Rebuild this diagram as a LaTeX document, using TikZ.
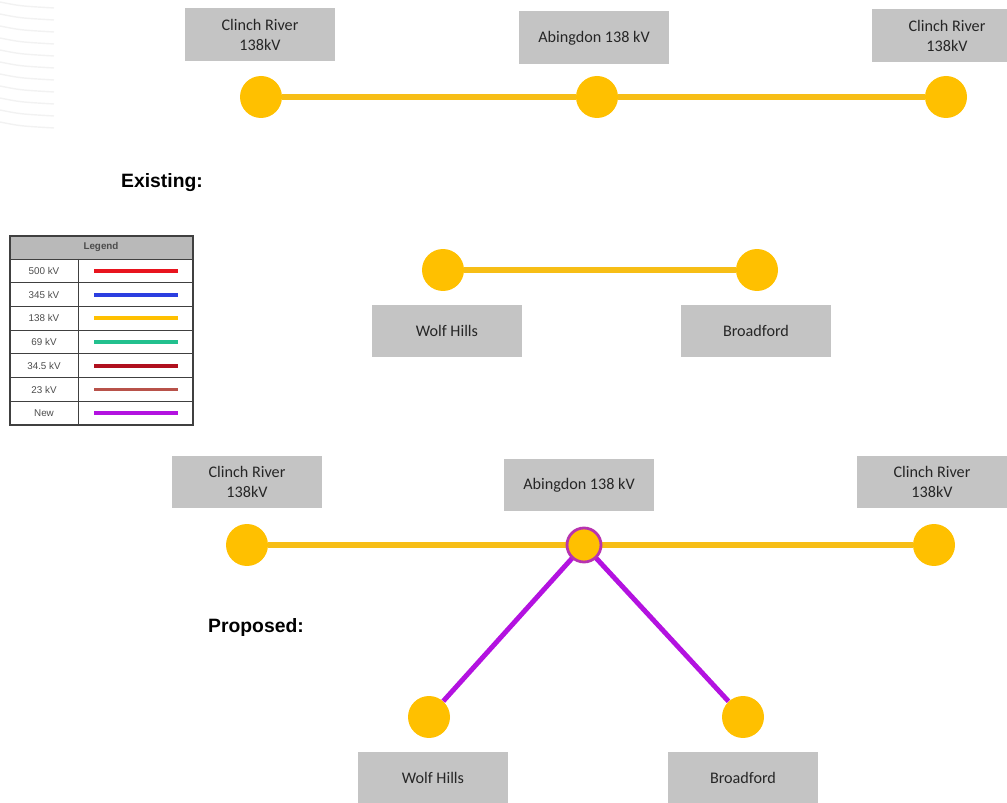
\documentclass[tikz,border=0pt]{standalone}
\usepackage{fontspec}
\setmainfont{Carlito}
\newfontfamily\arialfont{Liberation Sans}
\usetikzlibrary{positioning}
\definecolor{busyellow}{HTML}{FFC000}
\definecolor{lineyellow}{HTML}{F7BE16}
\definecolor{boxgray}{HTML}{C4C4C4}
\definecolor{newpurple}{HTML}{B312E0}
\definecolor{legred}{HTML}{E8141E}
\definecolor{legblue}{HTML}{2B3EE0}
\definecolor{leggreen}{HTML}{22C08E}
\definecolor{legdarkred}{HTML}{B0101E}
\definecolor{legbrown}{HTML}{B8524A}

\begin{document}
\begin{tikzpicture}[
    x=0.02cm, y=-0.02cm,
    station/.style={
        fill=boxgray,
        minimum width=3cm,
        minimum height=1.06cm,
        align=center,
        text=black!85,
        font=\fontsize{9.2}{11}\selectfont
    },
    bus/.style={
        circle,
        fill=busyellow,
        minimum size=0.84cm,
        inner sep=0pt
    },
    line138/.style={draw=lineyellow, line width=3.4pt},
    linenew/.style={draw=newpurple, line width=2.8pt},
    heading/.style={font=\arialfont\bfseries\fontsize{11}{13}\selectfont},
    legtext/.style={font=\arialfont\fontsize{5.6}{6}\selectfont, text=black!70}
]
\useasboundingbox (0,0) rectangle (1007,803);

% faint background arcs
\foreach \k in {0,...,10}
    \draw[gray!10, line width=0.8pt] (0,2+\k*12) .. controls (20,6+\k*12) .. (54,8+\k*12);

% existing 138 kV ring
\node[station] (clA) at (260,35) {Clinch River\\138kV};
\node[station] (abA) at (594,38) {Abingdon 138 kV};
\node[station] (clB) at (947,36) {Clinch River\\138kV};
\node[bus] (bclA) at (261,97) {};
\node[bus] (babA) at (597,97) {};
\node[bus] (bclB) at (946,97) {};
\draw[line138] (bclA) -- (babA);
\draw[line138] (babA) -- (bclB);

\node[heading] (exist) at (162,183) {Existing:};

% Wolf Hills - Broadford
\node[bus] (bwfA) at (443,270) {};
\node[bus] (bbfA) at (757,270) {};
\draw[line138] (bwfA) -- (bbfA);
\node[station] (wfA) at (447,331) {Wolf Hills};
\node[station] (bfA) at (756,331) {Broadford};

% legend
\fill[gray!55] (10,236) rectangle (193,259);
\draw[black!75, line width=0.7pt] (10,236) rectangle (193,425);
\node[legtext, font=\arialfont\bfseries\fontsize{5.6}{6}\selectfont] (leghead) at (101,247) {Legend};
\draw[black!75, line width=0.5pt] (78,259) -- (78,425);
\foreach \lab/\col [count=\i from 0] in {500 kV/legred, 345 kV/legblue, 138 kV/busyellow,
        69 kV/leggreen, 34.5 kV/legdarkred, 23 kV/legbrown, New/newpurple} {
    \draw[black!75, line width=0.5pt] (10,259+\i*23.7) -- (193,259+\i*23.7);
    \node[legtext] (leg\i) at (44,271+\i*23.7) {\lab};
    \draw[\col, line width=2.2pt] (94,271+\i*23.7) -- (178,271+\i*23.7);
}

% proposed
\node[station] (clC) at (247,482) {Clinch River\\138kV};
\node[station] (abC) at (579,485) {Abingdon 138 kV};
\node[station] (clD) at (932,482) {Clinch River\\138kV};
\node[bus] (bclC) at (247,545) {};
\node[bus] (bclD) at (934,545) {};
\node[bus] (bwfC) at (429,717) {};
\node[bus] (bbfC) at (743,717) {};
\coordinate (pab) at (584,545);
\draw[linenew] (pab) -- (bwfC);
\draw[linenew] (pab) -- (bbfC);
\draw[line138] (bclC) -- (pab);
\draw[line138] (pab) -- (bclD);
\node[bus, minimum size=0.68cm, draw=newpurple!70!brown, line width=1.6pt] (babC) at (pab) {};

\node[heading] (prop) at (256,628) {Proposed:};

\node[station] (wfC) at (433,778) {Wolf Hills};
\node[station] (bfC) at (743,778) {Broadford};
\end{tikzpicture}
\end{document}
